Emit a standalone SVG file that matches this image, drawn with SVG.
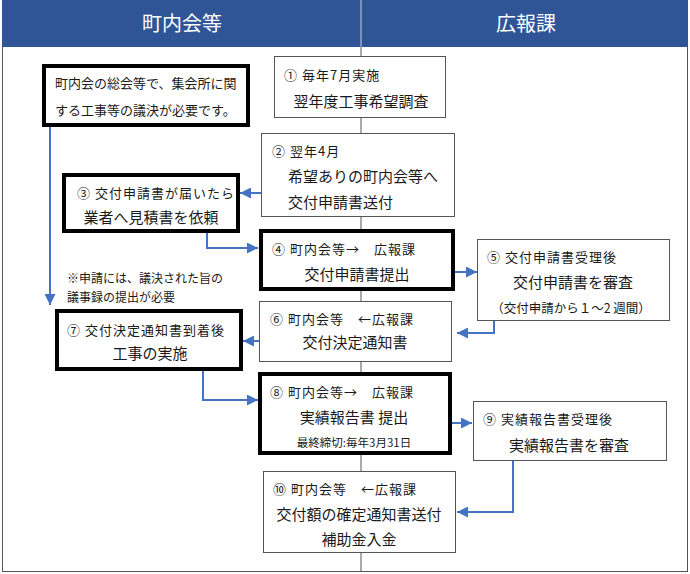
<svg xmlns="http://www.w3.org/2000/svg" width="690" height="574" viewBox="0 0 690 574">
<style>
text{font-family:"Noto Sans CJK JP","Noto Sans CJK SC",sans-serif;fill:#1a1a1a}
.hd{font-size:20px;fill:#fff;text-anchor:middle}
.s{font-size:13px;letter-spacing:1px}
.m{font-size:15px}
.c{text-anchor:middle}
.n{font-size:13px}
.thin{fill:#fff;stroke:#555;stroke-width:1}
.thick{fill:#fff;stroke:#000;stroke-width:4}
.ln{fill:none;stroke:#4472C4;stroke-width:2}
</style>
<defs>
<marker id="ah" viewBox="0 0 10 10" refX="10" refY="5" markerWidth="11" markerHeight="11" markerUnits="userSpaceOnUse" orient="auto">
<path d="M0,0 L10,5 L0,10 z" fill="#4472C4"/>
</marker>
</defs>
<rect x="0" y="0" width="690" height="574" fill="#fff"/>
<g id="frame">
<rect x="2.5" y="0.5" width="685" height="571" fill="none" stroke="#555" stroke-width="1"/>
<rect x="2" y="0" width="686" height="47" fill="#2F5597"/>
<line x1="361" y1="0" x2="361" y2="47" stroke="#c8d0e0" stroke-width="1"/>
<line x1="361" y1="47" x2="361" y2="571" stroke="#555" stroke-width="1"/>
<text class="hd" x="182" y="31">町内会等</text>
<text class="hd" x="526" y="31">広報課</text>
</g>
<g id="connectors">
<line class="ln" x1="50" y1="127" x2="50" y2="305" marker-end="url(#ah)"/>
<line class="ln" x1="261" y1="193" x2="240" y2="193" marker-end="url(#ah)"/>
<polyline class="ln" points="207,233 207,248 258,248" marker-end="url(#ah)"/>
<line class="ln" x1="455" y1="272" x2="477" y2="272" marker-end="url(#ah)"/>
<polyline class="ln" points="494,320 494,333 457,333" marker-end="url(#ah)"/>
<line class="ln" x1="259" y1="341" x2="243" y2="341" marker-end="url(#ah)"/>
<polyline class="ln" points="203,371 203,400 258,400" marker-end="url(#ah)"/>
<line class="ln" x1="452" y1="423" x2="472" y2="423" marker-end="url(#ah)"/>
<polyline class="ln" points="513,461 513,512 457,512" marker-end="url(#ah)"/>
</g>
<g id="note">
<rect class="thick" x="44" y="66" width="204" height="59"/>
<text class="n" x="55" y="88">町内会の総会等で、集会所に関</text>
<text class="n" x="55" y="115">する工事等の議決が必要です。</text>
</g>
<g id="step1">
<rect class="thin" x="274.5" y="56.5" width="171" height="61"/>
<text class="s" x="284" y="80">① 毎年7月実施</text>
<text class="m c" x="361" y="106.5">翌年度工事希望調査</text>
</g>
<g id="step2">
<rect class="thin" x="261.5" y="133.5" width="193" height="83"/>
<text class="s" x="272" y="156">② 翌年4月</text>
<text class="m" x="288" y="182">希望ありの町内会等へ</text>
<text class="m" x="288" y="207.5">交付申請書送付</text>
</g>
<g id="step3">
<rect class="thick" x="64" y="175" width="174" height="56"/>
<text class="s" x="77" y="197.5">③ 交付申請書が届いたら</text>
<text class="m c" x="151" y="223">業者へ見積書を依頼</text>
</g>
<g id="step4">
<rect class="thick" x="261" y="231" width="192" height="58"/>
<text class="s" x="272" y="253.5">④ 町内会等→　広報課</text>
<text class="m c" x="357" y="280">交付申請書提出</text>
</g>
<g id="step5">
<rect class="thin" x="477.5" y="239.5" width="192" height="81"/>
<text class="s" x="487" y="261.5">⑤ 交付申請書受理後</text>
<text class="m c" x="573" y="288">交付申請書を審査</text>
<text class="c" x="571" y="312.5" style="font-size:12.5px">（交付申請から１～2 週間）</text>
</g>
<g id="step6">
<rect class="thin" x="259.5" y="301.5" width="192" height="60"/>
<text class="s" x="270" y="323.5">⑥ 町内会等　←広報課</text>
<text class="m c" x="355" y="348">交付決定通知書</text>
</g>
<g id="remark">
<text x="67" y="283" style="font-size:12px">※申請には、議決された旨の</text>
<text x="67" y="301.5" style="font-size:12px">議事録の提出が必要</text>
</g>
<g id="step7">
<rect class="thick" x="57" y="311" width="184" height="58"/>
<text class="s" x="67" y="334.5">⑦ 交付決定通知書到着後</text>
<text class="m c" x="150" y="359">工事の実施</text>
</g>
<g id="step8">
<rect class="thick" x="260" y="374" width="190" height="79"/>
<text class="s" x="270" y="396.5">⑧ 町内会等→　広報課</text>
<text class="m c" x="354" y="423">実績報告書 提出</text>
<text class="c" x="354" y="447" style="font-size:11.5px">最終締切:毎年3月31日</text>
</g>
<g id="step9">
<rect class="thin" x="473.5" y="401.5" width="193" height="59"/>
<text class="s" x="483" y="423.5">⑨ 実績報告書受理後</text>
<text class="m c" x="569" y="451">実績報告書を審査</text>
</g>
<g id="step10">
<rect class="thin" x="263.5" y="471.5" width="192" height="81"/>
<text class="s" x="273" y="493.5">⑩ 町内会等　←広報課</text>
<text class="m c" x="359" y="520">交付額の確定通知書送付</text>
<text class="m c" x="359" y="545">補助金入金</text>
</g>
</svg>
